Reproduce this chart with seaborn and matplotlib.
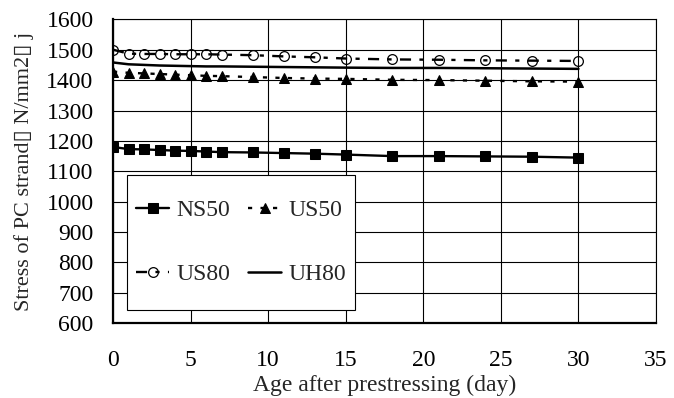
import matplotlib
matplotlib.use("Agg")
import matplotlib.pyplot as plt
import seaborn as sns
import pandas as pd
from matplotlib.patches import Rectangle

days = [0, 1, 2, 3, 4, 5, 6, 7, 9, 11, 13, 15, 18, 21, 24, 27, 30]
ns50 = [1180, 1173, 1172, 1170, 1168, 1167, 1165, 1163, 1162, 1160, 1158, 1155, 1150, 1150, 1149, 1148, 1145]
us50 = [1428, 1424, 1422, 1420, 1418, 1416, 1414, 1413, 1410, 1407, 1405, 1404, 1401, 1400, 1398, 1396, 1395]
us80 = [1500, 1487, 1486, 1486, 1485, 1485, 1485, 1484, 1482, 1478, 1475, 1471, 1468, 1467, 1465, 1464, 1463]
uh80 = [1458, 1452, 1450, 1448, 1447, 1446, 1445, 1445, 1444, 1443, 1442, 1441, 1440, 1440, 1439, 1438, 1437]
labels = ["NS50", "US50", "US80", "UH80"]
xticks = [0, 5, 10, 15, 20, 25, 30, 35]
yticks = [600, 700, 800, 900, 1000, 1100, 1200, 1300, 1400, 1500, 1600]

sns.set_style("white")
plt.rcParams["font.family"] = ["Liberation Serif", "DejaVu Sans"]
plt.rcParams["lines.scale_dashes"] = False
FS = 17

fig = plt.figure(figsize=(6.74, 3.98), dpi=100)
ax = fig.add_axes([0.1677, 0.1877, 0.8056, 0.7638])

df = pd.DataFrame({"day": days, "NS50": ns50, "US50": us50, "US80": us80, "UH80": uh80})

sns.lineplot(data=df, x="day", y="UH80", ax=ax, color="black", lw=1.8, label="UH80", zorder=3)
sns.lineplot(data=df, x="day", y="US80", ax=ax, color="black", lw=1.7, marker="o", markersize=7,
             markerfacecolor="none", markeredgecolor="black", markeredgewidth=0.9,
             linestyle=(0, (8, 6, 3, 6)), label="US80", zorder=4)
sns.lineplot(data=df, x="day", y="US50", ax=ax, color="black", lw=1.7, marker="^", markersize=7.5,
             markeredgecolor="black", linestyle=(0, (3, 6)), label="US50", zorder=4)
sns.lineplot(data=df, x="day", y="NS50", ax=ax, color="black", lw=1.7, marker="s", markersize=7.5,
             markeredgecolor="black", label="NS50", zorder=4)

ax.set_xlim(0, 35)
ax.set_ylim(600, 1600)
ax.set_xticks(xticks)
ax.set_yticks(yticks)
ax.grid(True, color="black", lw=0.8)
ax.set_axisbelow(True)
ax.tick_params(axis="both", direction="in", length=9, width=1, labelsize=FS, color="black", labelcolor="black")
ax.tick_params(axis="x", pad=19)
ax.tick_params(axis="y", pad=14)
for s in ["top", "right"]:
    ax.spines[s].set_linewidth(0.8)
    ax.spines[s].set_color("black")
for s in ["left", "bottom"]:
    ax.spines[s].set_linewidth(1.6)
    ax.spines[s].set_color("black")

ax.set_xlabel("Age after prestressing (day)", fontsize=FS, labelpad=3)
ax.set_ylabel("Stress of PC strand\u25af N/mm2\u25af j", fontsize=16, labelpad=9)

# legend frame
x0 = (127 - 113) / 543
y0 = (323.3 - 310) / 304
w = (355 - 127) / 543
hh = (310 - 175) / 304
ax.add_patch(Rectangle((x0, y0), w, hh, transform=ax.transAxes, facecolor="white",
                       edgecolor="black", lw=0.8, zorder=5))
handles, labs = ax.get_legend_handles_labels()
hm = dict(zip(labs, handles))
order = ["NS50", "US80", "US50", "UH80"]
leg = ax.legend([hm[k] for k in order], order, ncol=2, frameon=False, loc="center",
                bbox_to_anchor=(x0 + w / 2, y0 + hh / 2), fontsize=FS, labelspacing=1.8,
                handlelength=1.4, handletextpad=0.3, columnspacing=0.75, borderpad=0)
leg.set_zorder(6)

fig.savefig("out.png", dpi=100)
